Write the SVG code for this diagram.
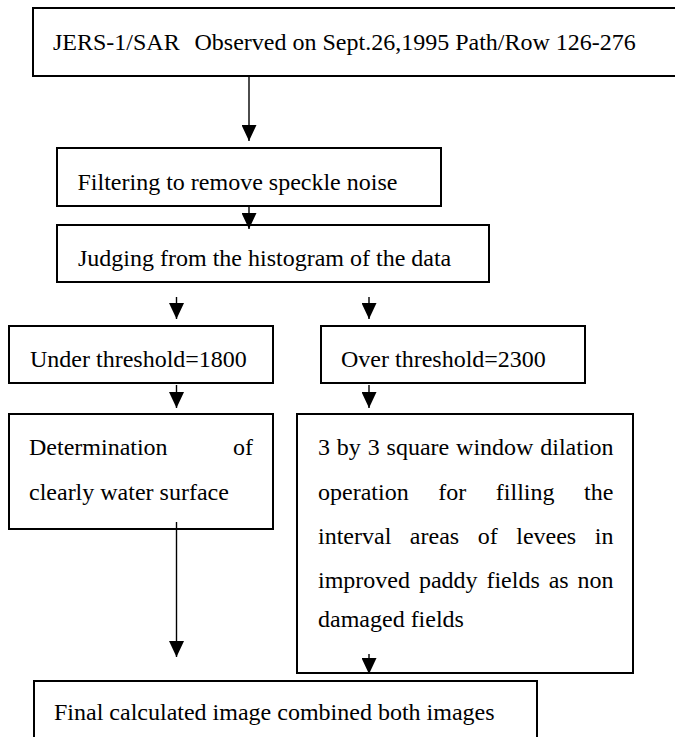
<svg xmlns="http://www.w3.org/2000/svg" width="675" height="737" viewBox="0 0 675 737">
<style>
.box{fill:#fff;stroke:#000;stroke-width:2}
.t{font-family:"Liberation Serif","Times New Roman",serif;font-size:24px;fill:#000}
.c{stroke:#000;stroke-width:1.4;fill:none}
</style>
<defs>
<marker id="ah" viewBox="0 0 16 15" refX="16" refY="7.5" markerWidth="16" markerHeight="15" markerUnits="userSpaceOnUse" orient="auto">
<path d="M0,0 L16,7.5 L0,15 z" fill="#000"/>
</marker>
</defs>
<rect width="675" height="737" fill="#fff"/>
<g id="n1"><rect class="box" x="33" y="8" width="660" height="68"/>
<text class="t" y="50"><tspan x="53">JERS-1/SAR</tspan><tspan x="194.5">Observed on Sept.26,1995 Path/Row 126-276</tspan></text></g>
<g id="n2"><rect class="box" x="57" y="148" width="384" height="58"/>
<text class="t" x="77.5" y="189.5">Filtering to remove speckle noise</text></g>
<g id="n3"><rect class="box" x="57" y="225" width="432" height="57"/>
<text class="t" x="78" y="266">Judging from the histogram of the data</text></g>
<g id="n4"><rect class="box" x="9" y="326" width="264" height="57"/>
<text class="t" x="30" y="367">Under threshold=1800</text></g>
<g id="n5"><rect class="box" x="321" y="326" width="264" height="57"/>
<text class="t" x="341" y="367">Over threshold=2300</text></g>
<g id="n6"><rect class="box" x="9" y="414" width="264" height="115"/>
<text class="t" x="29" y="455" word-spacing="59.4">Determination of</text>
<text class="t" x="29" y="500">clearly water surface</text></g>
<g id="n7"><rect class="box" x="297" y="414" width="336" height="259"/>
<text class="t" x="318" y="455" word-spacing="0.86">3 by 3 square window dilation</text>
<text class="t" x="318" y="499.5" word-spacing="23.6">operation for filling the</text>
<text class="t" x="318" y="544" word-spacing="12.55">interval areas of levees in</text>
<text class="t" x="318" y="588" word-spacing="2.9">improved paddy fields as non</text>
<text class="t" x="318" y="627">damaged fields</text></g>
<g id="n8"><rect class="box" x="34" y="681" width="503" height="80"/>
<text class="t" x="54" y="720">Final calculated image combined both images</text></g>
<g id="connectors">
<line class="c" x1="249" y1="77" x2="249" y2="141" marker-end="url(#ah)"/>
<line class="c" x1="249" y1="207" x2="249" y2="229" marker-end="url(#ah)"/>
<line class="c" x1="176.5" y1="297" x2="176.5" y2="319" marker-end="url(#ah)"/>
<line class="c" x1="369" y1="297" x2="369" y2="319" marker-end="url(#ah)"/>
<line class="c" x1="176.5" y1="385" x2="176.5" y2="408" marker-end="url(#ah)"/>
<line class="c" x1="369" y1="385" x2="369" y2="408" marker-end="url(#ah)"/>
<line class="c" x1="176.5" y1="522" x2="176.5" y2="657" marker-end="url(#ah)"/>
<line class="c" x1="369" y1="654" x2="369" y2="674" marker-end="url(#ah)"/>
</g>
</svg>
